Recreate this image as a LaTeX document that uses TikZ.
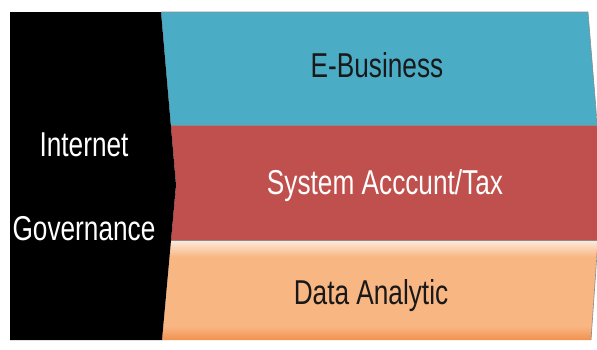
\documentclass[tikz,border=0pt]{standalone}
\usepackage{fontspec}
\newfontfamily\narrowsans{Liberation Sans}[FakeStretch=0.76]
\usetikzlibrary{positioning}

\definecolor{ebiz}{HTML}{4BACC6}
\definecolor{systax}{HTML}{C0504D}
\definecolor{dataan}{HTML}{F8B683}
\definecolor{datatop}{HTML}{FDEBDC}
\definecolor{databot}{HTML}{F2924E}
\definecolor{bandline}{HTML}{8A8A8A}

\tikzset{
 bandtext/.style={font=\narrowsans\fontsize{34.5}{38}\selectfont, anchor=base, inner sep=0pt},
}

\begin{document}
\begin{tikzpicture}[x=1pt,y=-1pt]
 \useasboundingbox (0,0) rectangle (597,349);
 % outline of the three bands
 \coordinate (tl) at (161,12);
 \coordinate (tr) at (588,12);
 \coordinate (rp) at (602,182);
 \coordinate (br) at (591,340);
 \coordinate (bl) at (162,340);
 \coordinate (lp) at (176,185);
 \begin{scope}
  \clip (tl) -- (tr) -- (rp) -- (br) -- (bl) -- (lp) -- cycle;
  \fill [ebiz] (150,12) rectangle (610,125);
  \fill [systax] (150,125) rectangle (610,240);
  \fill [dataan] (150,240) rectangle (610,340);
  \shade [top color=datatop, bottom color=dataan] (150,240) rectangle (610,257);
  \shade [top color=dataan, bottom color=databot] (150,326) rectangle (610,340);
  \draw [bandline, line width=0.8pt] (150,125) -- (610,125);
  \draw [bandline, line width=0.8pt] (150,240) -- (610,240);
 \end{scope}
 \draw [bandline, line width=0.6pt] (tl) -- (tr) -- (rp) -- (br);
 % black chevron
 \fill [black] (10,12) -- (tl) -- (lp) -- (bl) -- (10,340) -- cycle;
 \node [bandtext, white] (internet) at (84,156) {Internet};
 \node [bandtext, white, below=84pt of internet.base, anchor=base] (governance) {Governance};
 \node [bandtext, black!90] (ebusiness) at (377,77) {E-Business};
 \node [bandtext, white] (systax) at (385,194) {System Acccunt/Tax};
 \node [bandtext, black!90] (dataan) at (371,304) {Data Analytic};
\end{tikzpicture}
\end{document}
